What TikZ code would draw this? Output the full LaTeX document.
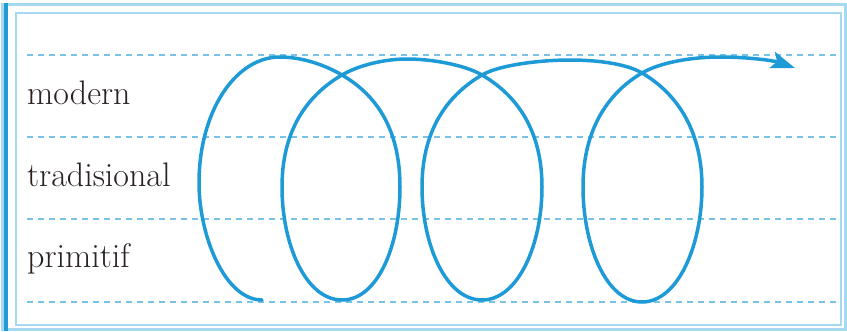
\documentclass[tikz,border=0pt]{standalone}
\usetikzlibrary{arrows.meta}
\definecolor{curveblue}{RGB}{30,155,215}
\definecolor{dashblue}{RGB}{120,195,230}
\definecolor{framelight}{RGB}{165,217,240}
\definecolor{framedark}{RGB}{35,155,215}
\definecolor{labelgray}{RGB}{42,34,34}
\begin{document}
\begin{tikzpicture}[x=1pt,y=-1pt,
  guide/.style={dashblue,line width=1.7pt,dash pattern=on 6pt off 5pt},
  lbl/.style={anchor=base west,inner sep=0pt,text=labelgray,font=\fontsize{34}{34}\selectfont},
  spiral/.style={curveblue,line width=3.5pt,line cap=round}]
\useasboundingbox (0,0) rectangle (847,332);
% frame
\draw[framelight,line width=3pt] (2,4.5) rectangle (845,329);
\draw[framelight,line width=1.5pt] (16,13) rectangle (841,325);
\draw[framedark,line width=4pt] (5.5,3) -- (5.5,330.5);
% guide lines
\foreach \yy/\nm in {55/ga,137/gb,219/gc,302/gd}{
  \coordinate (\nm l) at (27,\yy);
  \coordinate (\nm r) at (838,\yy);
  \draw[guide] (\nm l) -- (\nm r);
}
% labels
\node[lbl] (modern) at (27,104) {modern};
\node[lbl] (trad) at (27,186) {tradisional};
\node[lbl] (prim) at (27,267) {primitif};
% spiral
\coordinate (start) at (262,300);
\coordinate (tip) at (795,68);
\draw[spiral,-{Stealth[length=24pt,width=17pt,inset=5pt]}]
 (start) .. controls (225,300) and (199,236) .. (199,183)
 .. controls (199,112) and (235,57) .. (280,57)
 .. controls (302,57) and (325,65) .. (342,75)
 .. controls (372,92.5) and (400,124) .. (400,187)
 .. controls (400,245) and (378,300) .. (342,300)
 .. controls (306,300) and (282,245) .. (282,187)
 .. controls (282,125) and (312,92.5) .. (342,75)
 .. controls (359,65) and (385,59) .. (407,59)
 .. controls (432,59) and (465,65) .. (482,75)
 .. controls (512,92.5) and (542,125) .. (542,187)
 .. controls (542,245) and (518,300) .. (482,300)
 .. controls (446,300) and (422,245) .. (422,187)
 .. controls (422,125) and (452,92.5) .. (482,75)
 .. controls (499,65) and (540,60) .. (570,60)
 .. controls (594,60) and (625,63) .. (642,73)
 .. controls (672,90.5) and (702,125) .. (702,187)
 .. controls (702,245) and (678,302) .. (642,302)
 .. controls (606,302) and (583,245) .. (583,187)
 .. controls (583,125) and (612,90.5) .. (642,73)
 .. controls (659,63) and (690,57) .. (720,57)
 .. controls (750,57) and (775,61) .. (tip);
\end{tikzpicture}
\end{document}
